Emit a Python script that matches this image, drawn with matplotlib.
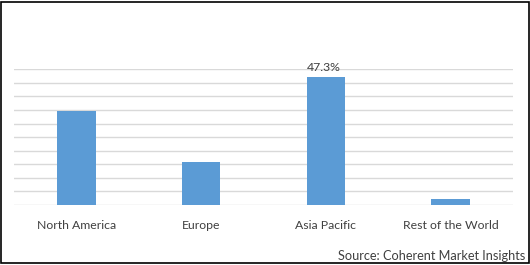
import matplotlib.pyplot as plt
import numpy as np

regions = ['North America', 'Europe', 'Asia Pacific', 'Rest of the World']
share = [34.5, 16.0, 47.3, 2.2]
shown_label = {2: '47.3%'}
grid_steps = np.arange(0, 55, 5)

plt.rcParams['font.family'] = ['Lato', 'DejaVu Sans']

W, H = 530, 265
fig = plt.figure(figsize=(W / 100, H / 100), dpi=100)
ax = fig.add_axes([14 / W, (H - 205) / H, (513 - 14) / W, (205 - 69.3) / H])

x = np.arange(len(regions))
ax.bar(x, share, width=0.31, color='#5b9bd5', zorder=3)
for i, txt in shown_label.items():
    ax.text(x[i] - 0.02, share[i] + 1.5, txt, ha='center', va='bottom',
            fontsize=8.8, color='#404040')

for g in grid_steps:
    ax.axhline(g, color='#d9d9d9', lw=1.0, zorder=1)

ax.set_xlim(-0.5, len(regions) - 0.5)
ax.set_ylim(0, 50)
ax.set_yticks([])
ax.set_xticks(x)
ax.set_xticklabels(regions, fontsize=8.8, color='#404040')
ax.tick_params(axis='x', length=0, pad=11)
for s in ax.spines.values():
    s.set_visible(False)

fig.text(525.5 / W, (H - 255.5) / H, 'Source: Coherent Market Insights',
         ha='right', va='center', fontsize=9.2, color='#404040')

# outer frame
fig.patches.append(plt.Rectangle((1 / W, 2 / H), 527.5 / W, 261 / H,
                                 transform=fig.transFigure, fill=False,
                                 edgecolor='black', lw=1.2))

fig.savefig('out.png', dpi=100)
